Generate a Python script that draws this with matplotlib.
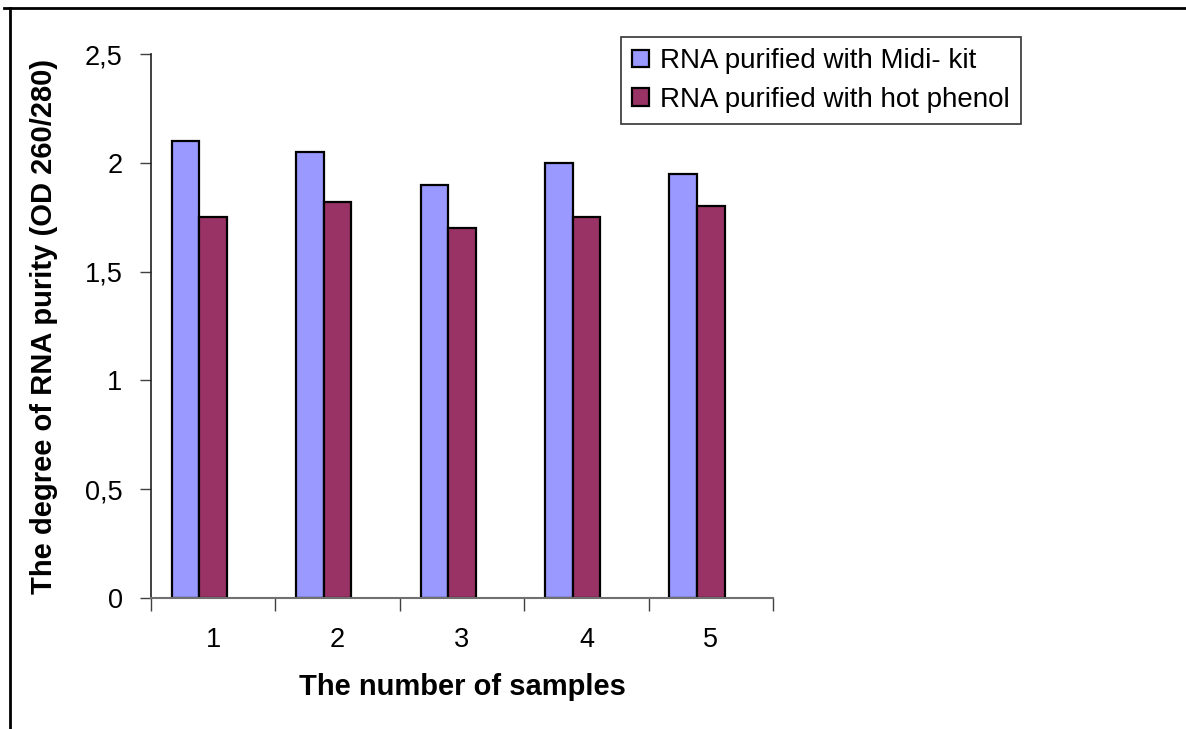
import matplotlib
matplotlib.use("Agg")
import matplotlib.pyplot as plt
from matplotlib.lines import Line2D
from matplotlib.ticker import FuncFormatter, FixedLocator, NullFormatter
import numpy as np

plt.rcParams['font.family'] = ['Liberation Sans', 'DejaVu Sans']

categories = ['1', '2', '3', '4', '5']
midi_kit = [2.10, 2.05, 1.90, 2.00, 1.95]
hot_phenol = [1.75, 1.82, 1.70, 1.75, 1.80]
series_names = ['RNA purified with Midi- kit', 'RNA purified with hot phenol']
y_ticks = [0, 0.5, 1, 1.5, 2, 2.5]

W, H = 1186, 729
fig = plt.figure(figsize=(W / 100, H / 100), dpi=100)
ax = fig.add_axes([151 / W, 1 - 598 / H, (773 - 151) / W, (598 - 54) / H])

x = np.arange(len(categories))
bw = 1 / 4.5
ax.bar(x - bw, midi_kit, width=bw, color='#9999FF', edgecolor='black', linewidth=1.6, label=series_names[0])
ax.bar(x, hot_phenol, width=bw, color='#993366', edgecolor='black', linewidth=1.6, label=series_names[1])

ax.set_xlim(-0.5, len(categories) - 0.5)
ax.set_ylim(0, 2.5)
ax.set_yticks(y_ticks)
ax.yaxis.set_major_formatter(FuncFormatter(lambda v, p: ('%g' % v).replace('.', ',')))

ax.xaxis.set_major_locator(FixedLocator(np.arange(-0.5, len(categories), 1.0)))
ax.xaxis.set_major_formatter(NullFormatter())
ax.xaxis.set_minor_locator(FixedLocator(x))
ax.set_xticklabels(categories, minor=True)
ax.tick_params(axis='x', which='major', length=9, width=1, color='#404040', direction='out')
ax.tick_params(axis='x', which='minor', length=0, pad=21, labelsize=19.5)
ax.tick_params(axis='y', length=8, width=1, color='#404040', direction='out', pad=12.5, labelsize=19.5)

for s in ['top', 'right']:
    ax.spines[s].set_visible(False)
ax.spines['left'].set_color('#202020')
ax.spines['bottom'].set_color('#707070')
ax.spines['left'].set_linewidth(1.2)
ax.spines['bottom'].set_linewidth(1.5)

ax.set_xlabel('The number of samples', fontsize=21, fontweight='bold', labelpad=14)
ax.set_ylabel('The degree of RNA purity (OD 260/280)', fontsize=21, fontweight='bold', labelpad=19)

leg = fig.legend(loc='upper left', bbox_to_anchor=(621 / W, 1 - 37 / H), fontsize=20,
                 frameon=True, fancybox=False, edgecolor='black', handlelength=0.6,
                 handleheight=0.6, handletextpad=0.4, borderpad=0.4, labelspacing=0.45,
                 borderaxespad=0)
leg.get_frame().set_linewidth(1.2)

fig.add_artist(Line2D([4 / W, 1], [1 - 8 / H, 1 - 8 / H], transform=fig.transFigure, color='black', linewidth=2))
fig.add_artist(Line2D([10 / W, 10 / W], [0, 1 - 8 / H], transform=fig.transFigure, color='black', linewidth=2))

fig.savefig('out.png', dpi=100)
